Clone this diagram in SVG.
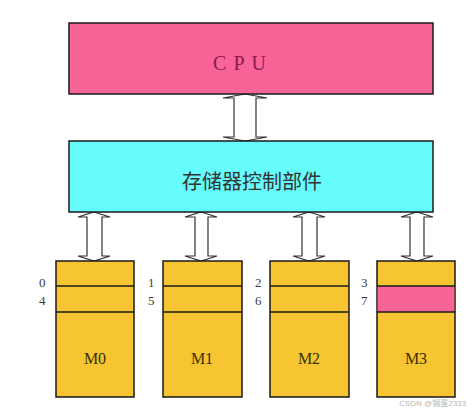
<svg xmlns="http://www.w3.org/2000/svg" width="474" height="411" viewBox="0 0 474 411">
<style>
.box{stroke:#1a1a1a;stroke-width:1.5}
.arr{fill:#fff;stroke:#333;stroke-width:1.2;stroke-linejoin:miter}
.div{stroke:#1a1a1a;stroke-width:1.5}
.num{font-family:"Liberation Serif",serif;font-size:13px;fill:#3a3a3a}
.mlab{font-family:"Liberation Serif",serif;font-size:16px;fill:#3a3000;text-anchor:middle}
</style>
<rect width="474" height="411" fill="#fff"/>
<g id="connectors">
<path class="arr" d="M245,94 L267,98 L256,98 L256,137 L267,137 L245,141 L223,137 L234,137 L234,98 L223,98 Z"/>
<path class="arr" d="M94,212 L110,217 L102,217 L102,256 L110,256 L94,261 L78,256 L87,256 L87,217 L78,217 Z"/>
<path class="arr" d="M201,212 L217,217 L208,217 L208,256 L217,256 L201,261 L185,256 L195,256 L195,217 L185,217 Z"/>
<path class="arr" d="M309,212 L325,217 L317,217 L317,256 L325,256 L309,261 L293,256 L302,256 L302,217 L293,217 Z"/>
<path class="arr" d="M417,212 L433,217 L424,217 L424,256 L433,256 L417,261 L401,256 L410,256 L410,217 L401,217 Z"/>
</g>
<g id="cpu">
<rect class="box" x="69" y="23" width="364" height="71" fill="#F86498"/>
<text x="243" y="70" font-family="'Liberation Serif',serif" font-size="20" fill="#8B1A4E" text-anchor="middle" letter-spacing="7">CPU</text>
</g>
<g id="controller">
<rect class="box" x="69" y="141" width="364" height="71" fill="#66FCFC"/>
<text x="252" y="189" font-family="'Noto Sans CJK SC',sans-serif" font-size="20" fill="#333" text-anchor="middle">存储器控制部件</text>
</g>
<g id="m0">
<rect class="box" x="56" y="261" width="78" height="136" fill="#F7C531"/>
<line class="div" x1="56" y1="286" x2="134" y2="286"/>
<line class="div" x1="56" y1="312" x2="134" y2="312"/>
<text class="num" x="39" y="287">0</text>
<text class="num" x="39" y="305">4</text>
<text class="mlab" x="95" y="364">M0</text>
</g>
<g id="m1">
<rect class="box" x="163" y="261" width="79" height="136" fill="#F7C531"/>
<line class="div" x1="163" y1="286" x2="242" y2="286"/>
<line class="div" x1="163" y1="312" x2="242" y2="312"/>
<text class="num" x="148" y="287">1</text>
<text class="num" x="148" y="305">5</text>
<text class="mlab" x="202" y="364">M1</text>
</g>
<g id="m2">
<rect class="box" x="270" y="261" width="79" height="136" fill="#F7C531"/>
<line class="div" x1="270" y1="286" x2="349" y2="286"/>
<line class="div" x1="270" y1="312" x2="349" y2="312"/>
<text class="num" x="255" y="287">2</text>
<text class="num" x="255" y="305">6</text>
<text class="mlab" x="309" y="364">M2</text>
</g>
<g id="m3">
<rect class="box" x="377" y="261" width="78" height="136" fill="#F7C531"/>
<rect x="377.75" y="286" width="76.5" height="26" fill="#F86498"/>
<line class="div" x1="377" y1="286" x2="455" y2="286"/>
<line class="div" x1="377" y1="312" x2="455" y2="312"/>
<text class="num" x="361" y="287">3</text>
<text class="num" x="361" y="305">7</text>
<text class="mlab" x="416" y="364">M3</text>
</g>
<text x="466" y="406" font-family="'Liberation Sans','Noto Sans CJK SC',sans-serif" font-size="8" fill="#b8b8b8" text-anchor="end">CSDN @钢蛋2333</text>
</svg>
